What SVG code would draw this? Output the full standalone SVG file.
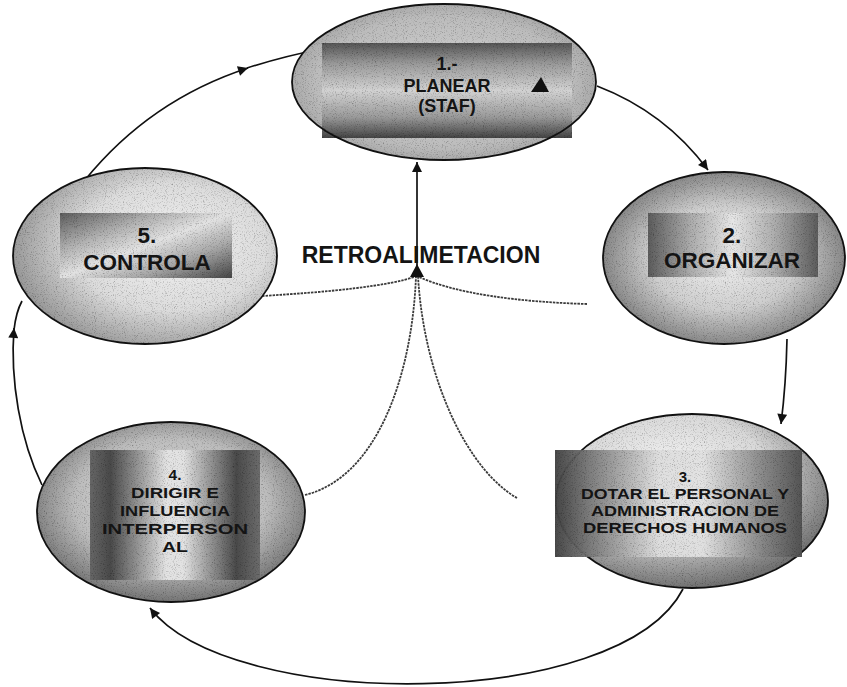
<svg xmlns="http://www.w3.org/2000/svg" width="847" height="687" viewBox="0 0 847 687">
<style>
.el{stroke:#111;stroke-width:1.8}
.t{font-family:"Liberation Sans",Arial,sans-serif;fill:#141414;text-anchor:middle;font-weight:bold}
.con{fill:none;stroke:#111;stroke-width:1.7}
.fb{fill:none;stroke:#3a3a3a;stroke-width:1.8;stroke-dasharray:2.5 1}
</style>
<defs>
<marker id="ah" viewBox="0 0 10 10" refX="10" refY="5" markerWidth="13" markerHeight="10" markerUnits="userSpaceOnUse" orient="auto">
<path d="M0,0 L10,5 L0,10 z" fill="#111"/>
</marker>
<filter id="grain" x="0" y="0" width="100%" height="100%">
<feTurbulence type="fractalNoise" baseFrequency="0.9" numOctaves="2" seed="4" result="t"/>
<feColorMatrix in="t" type="matrix" values="1.5 0 0 0 0.28  1.5 0 0 0 0.28  1.5 0 0 0 0.28  0 0 0 0 1" result="g"/>
<feBlend in="SourceGraphic" in2="g" mode="multiply" result="b"/>
<feComposite in="b" in2="SourceGraphic" operator="in"/>
</filter>
<radialGradient id="g1e" cx="0.5" cy="0.5" r="0.6"><stop offset="0" stop-color="#d2d2d2"/><stop offset="0.7" stop-color="#bcbcbc"/><stop offset="1" stop-color="#959595"/></radialGradient>
<linearGradient id="g1r" x1="0" y1="0" x2="0" y2="1"><stop offset="0" stop-color="#555"/><stop offset="0.22" stop-color="#9a9a9a"/><stop offset="0.5" stop-color="#d2d2d2"/><stop offset="0.78" stop-color="#9a9a9a"/><stop offset="1" stop-color="#444"/></linearGradient>
<radialGradient id="g5e" cx="0.6" cy="0.45" r="0.6"><stop offset="0" stop-color="#f2f2f2"/><stop offset="0.6" stop-color="#dcdcdc"/><stop offset="1" stop-color="#9a9a9a"/></radialGradient>
<linearGradient id="g5r" x1="0" y1="0" x2="1" y2="1"><stop offset="0" stop-color="#5c5c5c"/><stop offset="0.3" stop-color="#b4b4b4"/><stop offset="0.5" stop-color="#e2e2e2"/><stop offset="0.72" stop-color="#a8a8a8"/><stop offset="1" stop-color="#444"/></linearGradient>
<radialGradient id="g2e" cx="0.5" cy="0.5" r="0.55"><stop offset="0" stop-color="#f2f2f2"/><stop offset="0.55" stop-color="#cecece"/><stop offset="1" stop-color="#767676"/></radialGradient>
<linearGradient id="g2r" x1="0" y1="0" x2="1" y2="0"><stop offset="0" stop-color="#5c5c5c"/><stop offset="0.25" stop-color="#ababab"/><stop offset="0.5" stop-color="#e6e6e6"/><stop offset="0.75" stop-color="#ababab"/><stop offset="1" stop-color="#5c5c5c"/></linearGradient>
<radialGradient id="g3e" cx="0.42" cy="0.35" r="0.65"><stop offset="0" stop-color="#f6f6f6"/><stop offset="0.55" stop-color="#d8d8d8"/><stop offset="1" stop-color="#727272"/></radialGradient>
<linearGradient id="g3r" x1="0" y1="0" x2="1" y2="0"><stop offset="0" stop-color="#404040"/><stop offset="0.15" stop-color="#7c7c7c"/><stop offset="0.42" stop-color="#dedede"/><stop offset="0.6" stop-color="#e2e2e2"/><stop offset="0.85" stop-color="#828282"/><stop offset="1" stop-color="#505050"/></linearGradient>
<radialGradient id="g4e" cx="0.5" cy="0.45" r="0.6"><stop offset="0" stop-color="#e4e4e4"/><stop offset="0.6" stop-color="#bcbcbc"/><stop offset="1" stop-color="#626262"/></radialGradient>
<linearGradient id="g4r" x1="0" y1="0" x2="1" y2="0"><stop offset="0" stop-color="#666"/><stop offset="0.12" stop-color="#4a4a4a"/><stop offset="0.45" stop-color="#e2e2e2"/><stop offset="0.55" stop-color="#e2e2e2"/><stop offset="0.86" stop-color="#4a4a4a"/><stop offset="1" stop-color="#6c6c6c"/></linearGradient>
</defs>

<g id="connectors">
<path class="con" d="M597,86 Q665,112 708,170" marker-end="url(#ah)"/>
<path class="con" d="M787,339 Q786,385 781,424" marker-end="url(#ah)"/>
<path class="con" d="M683,589 C620,712 230,712 150,608" marker-end="url(#ah)"/>
<path class="con" d="M42,485 C20,440 10,380 14,328" marker-end="url(#ah)"/>
<path class="con" d="M14,330 Q16,312 22,301"/>
<path class="con" d="M85,180 Q150,100 248,68" marker-end="url(#ah)"/>
<path class="con" d="M247,68 Q285,56 317,50"/>
<path class="con" d="M417,266 L417,162" marker-end="url(#ah)"/>
<path class="fb" d="M262,296 C330,292 390,286 417,276"/>
<path class="fb" d="M587,304 C520,302 455,294 417,276"/>
<path class="fb" d="M305,495 C375,478 412,380 416,276"/>
<path class="fb" d="M517,498 C468,470 424,380 418,276"/>
<polygon points="417,264 410,277 424,277" fill="#111"/>
</g>

<g id="node1">
<g filter="url(#grain)">
<ellipse cx="444" cy="82" rx="152" ry="78" fill="url(#g1e)"/>
<rect x="322" y="43" width="250" height="95" fill="url(#g1r)"/>
</g>
<ellipse class="el" cx="444" cy="82" rx="152" ry="78" fill="none"/>
<text class="t" font-size="18" x="447" y="70">1.-</text>
<text class="t" font-size="18" x="447" y="92">PLANEAR</text>
<text class="t" font-size="18" x="447" y="112">(STAF)</text>
<polygon points="541,77 531,92 549,92" fill="#111"/>
</g>

<g id="node2">
<g filter="url(#grain)">
<ellipse cx="724" cy="258" rx="121" ry="86" fill="url(#g2e)"/>
<rect x="648" y="213" width="170" height="64" fill="url(#g2r)"/>
</g>
<ellipse class="el" cx="724" cy="258" rx="121" ry="86" fill="none"/>
<text class="t" font-size="22.5" x="732" y="243">2.</text>
<text class="t" font-size="22.5" x="732" y="268">ORGANIZAR</text>
</g>

<g id="node3">
<g filter="url(#grain)">
<ellipse cx="692" cy="501" rx="136" ry="87" fill="url(#g3e)"/>
</g>
<ellipse class="el" cx="692" cy="501" rx="136" ry="87" fill="none"/>
<rect x="555" y="450" width="247" height="107" fill="url(#g3r)" filter="url(#grain)" opacity="0.95"/>
<text class="t" font-size="15" x="685" y="482">3.</text>
<text class="t" font-size="15" x="685" y="499" textLength="208" lengthAdjust="spacingAndGlyphs">DOTAR EL PERSONAL Y</text>
<text class="t" font-size="15" x="685" y="516" textLength="188" lengthAdjust="spacingAndGlyphs">ADMINISTRACION DE</text>
<text class="t" font-size="15" x="685" y="533" textLength="204" lengthAdjust="spacingAndGlyphs">DERECHOS HUMANOS</text>
</g>

<g id="node4">
<g filter="url(#grain)">
<ellipse cx="171" cy="512" rx="134" ry="90" fill="url(#g4e)"/>
<rect x="90" y="450" width="170" height="130" fill="url(#g4r)"/>
</g>
<ellipse class="el" cx="171" cy="512" rx="134" ry="90" fill="none"/>
<text class="t" font-size="15.5" x="175" y="480">4.</text>
<text class="t" font-size="15.5" x="175" y="498" textLength="88" lengthAdjust="spacingAndGlyphs">DIRIGIR E</text>
<text class="t" font-size="15.5" x="175" y="516" textLength="110" lengthAdjust="spacingAndGlyphs">INFLUENCIA</text>
<text class="t" font-size="15.5" x="175" y="534" textLength="146" lengthAdjust="spacingAndGlyphs">INTERPERSON</text>
<text class="t" font-size="15.5" x="175" y="552" textLength="26" lengthAdjust="spacingAndGlyphs">AL</text>
</g>

<g id="node5">
<g filter="url(#grain)">
<ellipse cx="145" cy="256" rx="132" ry="88" fill="url(#g5e)"/>
<rect x="60" y="213" width="172" height="65" fill="url(#g5r)"/>
</g>
<ellipse class="el" cx="145" cy="256" rx="132" ry="88" fill="none"/>
<text class="t" font-size="22.5" x="147" y="243">5.</text>
<text class="t" font-size="22.5" x="147" y="270">CONTROLA</text>
</g>

<g id="label">
<text class="t" font-size="23" x="421" y="263">RETROALIMETACION</text>
</g>
</svg>
